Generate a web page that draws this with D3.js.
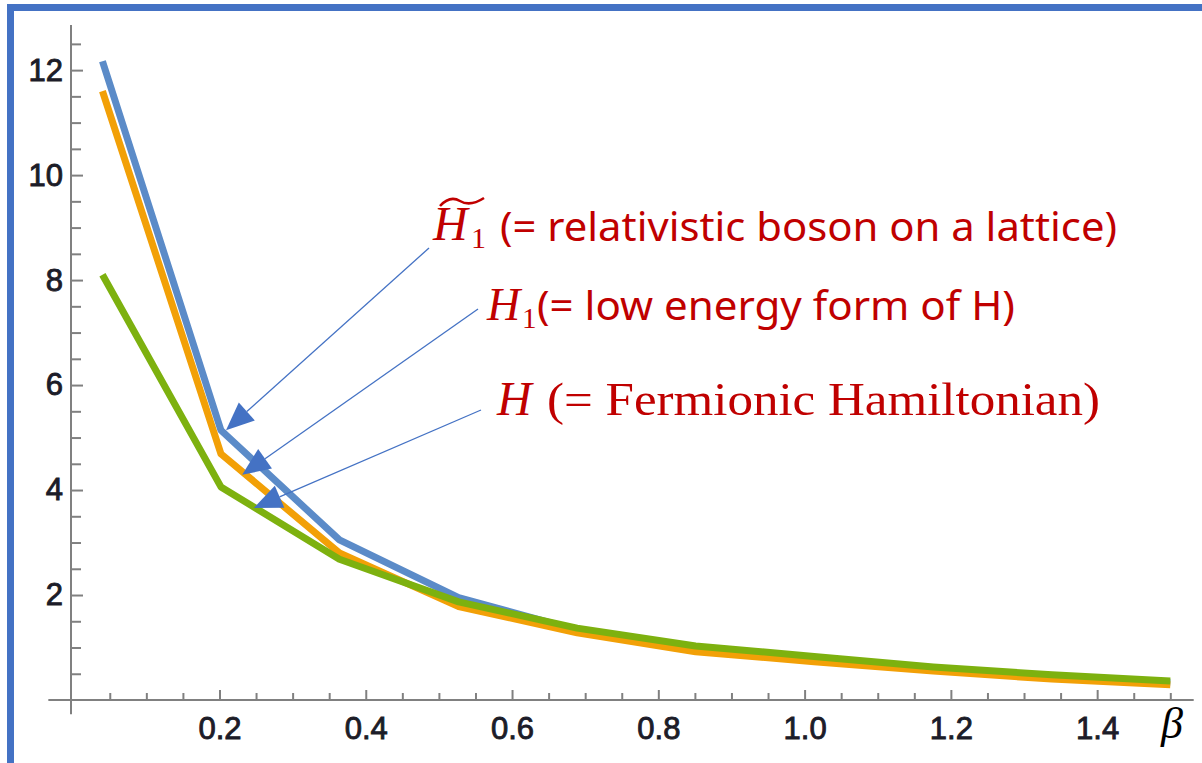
<!DOCTYPE html>
<html>
<head>
<meta charset="utf-8">
<script src="https://cdn.jsdelivr.net/npm/d3@7"></script>
<style>
  html, body { margin: 0; padding: 0; background: #fff; }
  svg { display: block; }
</style>
</head>
<body>
<div id="app"></div>
<script>
// data
const beta = [0.04, 0.202, 0.364, 0.527, 0.689, 0.851, 1.013, 1.176, 1.338, 1.5]
const tildeH1 = [12.17, 5.14, 3.05, 1.95, 1.33, 0.98, 0.78, 0.59, 0.44, 0.33]   // blue
const H1 = [11.6, 4.69, 2.80, 1.78, 1.28, 0.92, 0.73, 0.55, 0.40, 0.29]         // orange
const H = [8.1, 4.06, 2.68, 1.87, 1.37, 1.03, 0.83, 0.63, 0.48, 0.36]           // green
const xMajor = [0.2, 0.4, 0.6, 0.8, 1.0, 1.2, 1.4]
const yMajor = [2, 4, 6, 8, 10, 12]

const W = 1202, H_ = 763

const svg = d3.select('#app')
              .append('svg')
                .attr('width', W)
                .attr('height', H_)

// frame (blue border top + left)
svg.append('rect').attr('x', 7).attr('y', 4).attr('width', W - 7).attr('height', 7).attr('fill', '#4472c4')
svg.append('rect').attr('x', 7).attr('y', 4).attr('width', 7).attr('height', H_ - 4).attr('fill', '#4472c4')

// scales
const xScale = d3.scaleLinear().domain([0, 1]).range([73.2, 73.2 + 731.4])
const yScale = d3.scaleLinear().domain([0, 12]).range([700, 700 - 12 * 52.49])
const xOrigin = -0.003

const axisColor = '#808080'

// minor tick values
const xMinor = d3.range(1, 31).map(i => +(i * 0.05).toFixed(2)).filter(v => !xMajor.some(m => Math.abs(m - v) < 1e-6))
const yMinor = d3.range(1, 26).map(i => i * 0.5).filter(v => v % 2 !== 0)

// y axis
const yAxisG = svg.append('g').attr('transform', `translate(${xScale(xOrigin)},0)`)
yAxisG.append('g').call(d3.axisLeft(yScale).tickValues(yMinor).tickSizeInner(-10).tickSizeOuter(0).tickFormat(''))
yAxisG.append('g').call(d3.axisLeft(yScale).tickValues(yMajor).tickSizeInner(-12).tickSizeOuter(0).tickPadding(8))
yAxisG.selectAll('.domain').remove()
yAxisG.append('line')
  .attr('y1', yScale(-0.27)).attr('y2', yScale(12.86))
  .attr('stroke', axisColor).attr('stroke-width', 2)

// x axis
const xAxisG = svg.append('g').attr('transform', `translate(0,${yScale(0)})`)
xAxisG.append('g').call(d3.axisBottom(xScale).tickValues(xMinor).tickSizeInner(-7).tickSizeOuter(0).tickFormat(''))
xAxisG.append('g').call(d3.axisBottom(xScale).tickValues(xMajor).tickSizeInner(-10).tickSizeOuter(0).tickPadding(17).tickFormat(d3.format('.1f')))
xAxisG.selectAll('.domain').remove()
xAxisG.append('line')
  .attr('x1', xScale(-0.034)).attr('x2', xScale(1.532))
  .attr('stroke', axisColor).attr('stroke-width', 2)

svg.selectAll('.tick line').attr('stroke', axisColor).attr('stroke-width', 2)
svg.selectAll('.tick text')
  .attr('font-family', 'Liberation Sans, Arial, sans-serif')
  .attr('font-size', 31)
  .attr('fill', '#1c1c28')
  .attr('stroke', '#1c1c28')
  .attr('stroke-width', 0.9)

// β label
svg.append('text')
  .attr('x', 1161).attr('y', 738)
  .attr('font-family', 'Liberation Serif, serif')
  .attr('font-style', 'italic')
  .attr('font-size', 44)
  .attr('fill', '#000')
  .text('β')

// curves: blue, orange, green (green on top)
const series = [
  {name: 'tildeH1', values: tildeH1, color: '#5b8bc8'},
  {name: 'H1', values: H1, color: '#f2a007'},
  {name: 'H', values: H, color: '#7db10f'}
]
const line = d3.line().x(d => xScale(d[0])).y(d => yScale(d[1]))
svg.selectAll('.curve')
  .data(series)
  .join('path')
    .attr('class', 'curve')
    .attr('d', s => line(beta.map((b, i) => [b, s.values[i]])))
    .attr('fill', 'none')
    .attr('stroke', s => s.color)
    .attr('stroke-width', 7)
    .attr('stroke-linejoin', 'round')

// annotation arrows (tips in data coords, tails near the labels)
const arrows = [
  {tip: [0.2089, 5.14], tail: [429, 248]},
  {tip: [0.231, 4.29], tail: [478, 309]},
  {tip: [0.247, 3.66], tail: [481, 410]}
]
const arrowColor = '#4472c4'
arrows.forEach(a => {
  const tx = xScale(a.tip[0]), ty = yScale(a.tip[1])
  const dx = a.tail[0] - tx, dy = a.tail[1] - ty
  const len = Math.hypot(dx, dy)
  const ux = dx / len, uy = dy / len
  const hl = 28, hw = 12
  const bx = tx + ux * hl, by = ty + uy * hl
  svg.append('line')
    .attr('x1', a.tail[0]).attr('y1', a.tail[1])
    .attr('x2', bx).attr('y2', by)
    .attr('stroke', arrowColor).attr('stroke-width', 1.3)
  svg.append('path')
    .attr('d', `M${tx},${ty}L${bx - uy * hw},${by + ux * hw}L${bx + uy * hw},${by - ux * hw}Z`)
    .attr('fill', arrowColor)
})

// annotation texts
const red = '#c00000'
const t1 = svg.append('g')
t1.append('text').attr('x', 433).attr('y', 240)
  .attr('font-family', 'Liberation Serif, serif').attr('font-style', 'italic')
  .attr('font-size', 48).attr('fill', red).text('H')
t1.append('text').attr('x', 471).attr('y', 248)
  .attr('font-family', 'Liberation Serif, serif')
  .attr('font-size', 30).attr('fill', red).text('1')
t1.append('path')
  .attr('d', 'M440,206 Q450,195 460,201 T484,198')
  .attr('fill', 'none').attr('stroke', red).attr('stroke-width', 2.6)
t1.append('text').attr('x', 500).attr('y', 241)
  .attr('font-family', 'Noto Sans, Open Sans, sans-serif')
  .attr('font-size', 40).attr('fill', red)
  .attr('textLength', 617).attr('lengthAdjust', 'spacingAndGlyphs')
  .text('(= relativistic boson on a lattice)')

const t2 = svg.append('g')
t2.append('text').attr('x', 487).attr('y', 320)
  .attr('font-family', 'Liberation Serif, serif').attr('font-style', 'italic')
  .attr('font-size', 46).attr('fill', red).text('H')
t2.append('text').attr('x', 522).attr('y', 328)
  .attr('font-family', 'Liberation Serif, serif')
  .attr('font-size', 29).attr('fill', red).text('1')
t2.append('text').attr('x', 537).attr('y', 320)
  .attr('font-family', 'Noto Sans, Open Sans, sans-serif')
  .attr('font-size', 40).attr('fill', red)
  .attr('textLength', 478).attr('lengthAdjust', 'spacingAndGlyphs')
  .text('(= low energy form of H)')

const t3 = svg.append('g')
t3.append('text').attr('x', 497).attr('y', 415)
  .attr('font-family', 'Liberation Serif, serif').attr('font-style', 'italic')
  .attr('font-size', 48).attr('fill', red).text('H')
t3.append('text').attr('x', 547).attr('y', 415)
  .attr('font-family', 'Liberation Serif, serif')
  .attr('font-size', 46).attr('fill', red)
  .attr('textLength', 553).attr('lengthAdjust', 'spacingAndGlyphs')
  .text('(= Fermionic Hamiltonian)')
</script>
</body>
</html>
